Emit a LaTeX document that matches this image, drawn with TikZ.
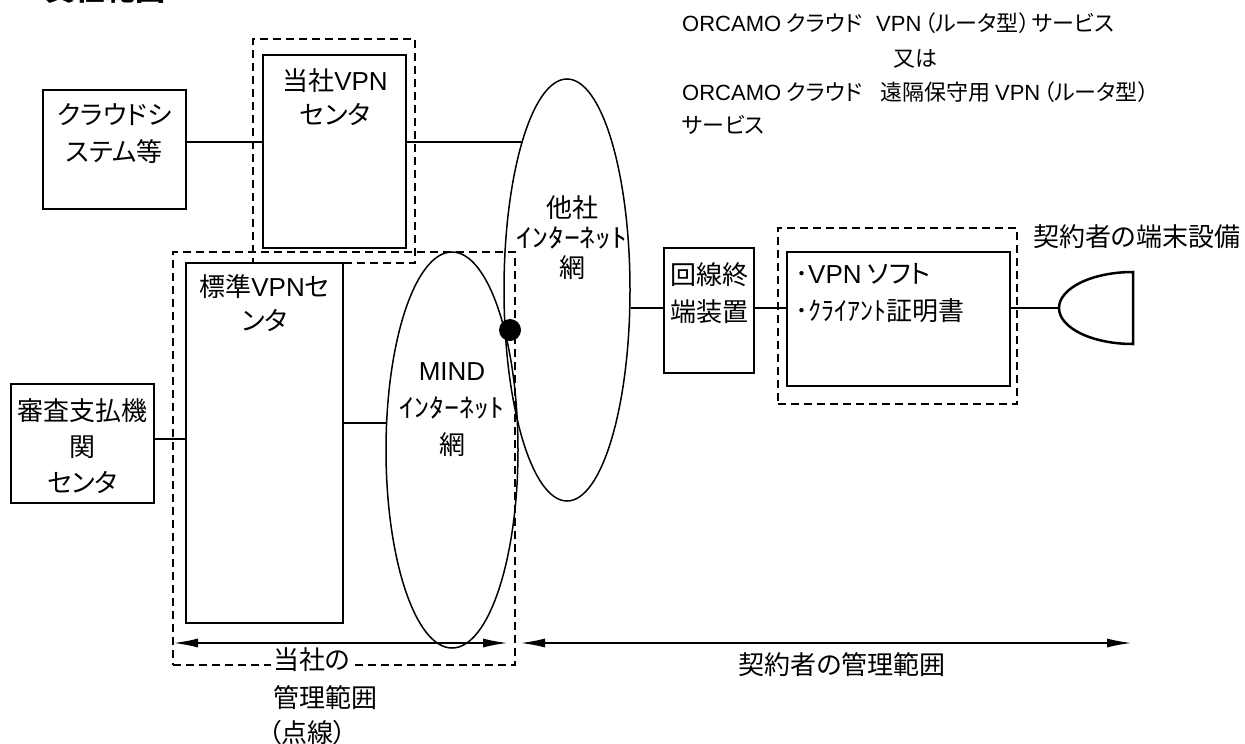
\documentclass[tikz,border=0pt]{standalone}
\usepackage{fontspec}
\setmainfont{Noto Sans CJK JP}[RawFeature=+palt]
\newfontfamily\latfont{Liberation Sans}
\newcommand\lt[1]{{\latfont #1}}
\newcommand\hw[1]{\scalebox{1.15}[1]{#1}}
\usetikzlibrary{shapes.geometric,arrows.meta}
\begin{document}
\begin{tikzpicture}[x=1pt,y=-1pt,
  box/.style={draw,line width=2.5pt,inner sep=0pt},
  dbox/.style={draw,line width=1.5pt,dash pattern=on 8pt off 5pt,inner sep=0pt},
  net/.style={draw,ellipse,line width=1.5pt,inner sep=0pt},
  wire/.style={line width=1.5pt},
  lbl/.style={inner sep=0pt,align=center,font=\fontsize{26}{37}\selectfont},
  trt/.style={inner sep=0pt,font=\fontsize{22}{28}\selectfont},
  rng/.style={line width=2pt,{Latex[length=25pt,width=9pt]}-{Latex[length=25pt,width=9pt]}},
]
\useasboundingbox[fill=white] (0,0) rectangle (1245,744);

% title (cut off at top, as in the reference)
\node[anchor=base west,inner sep=0pt,font=\bfseries\fontsize{30}{30}\selectfont] (title) at (45,1) {責任範囲};

% boxes
\node[dbox,minimum width=162pt,minimum height=224pt] (tvpnd) at (334,151) {};
\node[dbox,minimum width=342pt,minimum height=413pt] (bigd) at (344,458.5) {};
\node[dbox,minimum width=239pt,minimum height=176pt] (softd) at (897.5,316) {};
\node[box,minimum width=143pt,minimum height=119pt] (cloud) at (114.5,149.5) {};
\node[box,minimum width=143pt,minimum height=193pt] (tvpn) at (334.5,151.5) {};
\node[box,minimum width=157pt,minimum height=360pt] (std) at (264.5,443) {};
\node[box,minimum width=143pt,minimum height=119pt] (shinsa) at (82.5,443.5) {};
\node[box,minimum width=90pt,minimum height=125pt] (kaisen) at (709,310.5) {};
\node[box,minimum width=223pt,minimum height=134pt] (soft) at (898.5,319) {};

% networks
\node[net,minimum width=132pt,minimum height=396pt] (mind) at (452,450) {};
\node[net,minimum width=126pt,minimum height=422pt] (tasha) at (567,290) {};
\node[circle,fill=black,minimum size=22pt,inner sep=0pt] (dot) at (510,330) {};

% terminal
\coordinate (term) at (1059,308);
\draw[line width=2.5pt] (term) ++(74,-36) arc[start angle=90,end angle=270,x radius=74pt,y radius=36pt] -- cycle;

% labels
\node[lbl] (tCloud) at (114.5,133.5) {クラウドシ\\ステム等};
\node[lbl,font=\fontsize{26}{34}\selectfont] (tTvpn) at (335,97) {当社\lt{VPN}\\センタ};
\node[lbl,font=\fontsize{26}{34}\selectfont] (tStd) at (264.5,303.5) {標準\lt{VPN}セ\\ンタ};
\node[lbl,font=\fontsize{26}{36}\selectfont] (tShinsa) at (82.5,446) {審査支払機\\関\\センタ};
\node[lbl] (tMind) at (452,409.5) {\lt{MIND}\\\hw{ｲﾝﾀｰﾈｯﾄ}\\網};
\node[lbl,font=\fontsize{26}{30}\selectfont] (tTasha) at (572,238) {他社\\\scalebox{1.22}[1]{ｲﾝﾀｰﾈｯﾄ}\\網};
\node[lbl] (tKaisen) at (709,293.5) {回線終\\端装置};
\node[lbl,align=left,anchor=west] (tSoft) at (795,293.5) {･\lt{VPN} ソフト\\･ｸﾗｲｱﾝﾄ証明書};
\node[lbl,anchor=west] (tTerm) at (1033,237) {契約者の端末設備};

\node[trt,anchor=west] (o1) at (682,23) {\lt{ORCAMO} クラウド\hspace{14pt}\lt{VPN}\hspace{3pt}（ルータ型）\hspace{2pt}サービス};
\node[trt] (o2) at (915,59) {又は};
\node[trt,anchor=west] (o3) at (682,92) {\lt{ORCAMO} クラウド\hspace{18pt}遠隔保守用 \lt{VPN}\hspace{3pt}（ルータ型）};
\node[trt,anchor=west] (o4) at (682,125) {サービス};

% connectors
\coordinate (y1) at (0,142);
\coordinate (y2) at (0,439);
\coordinate (y3) at (0,423);
\coordinate (y4) at (0,308);
\draw[wire] (cloud.east |- y1) -- (tvpn.west |- y1);
\draw[wire] (tvpn.east |- y1) -- (tasha.106.9 |- y1);
\draw[wire] (shinsa.east |- y2) -- (std.west |- y2);
\draw[wire] (std.east |- y3) -- (mind.157.6 |- y3);
\draw[wire] (tasha.-16 |- y4) -- (kaisen.west |- y4);
\draw[wire] (kaisen.east |- y4) -- (soft.west |- y4);
\draw[wire] (soft.east |- y4) -- (term);

% ranges
\coordinate (a1l) at (173,643);
\coordinate (a1r) at (508,643);
\coordinate (a2l) at (520,643);
\coordinate (a2r) at (1132,643);
\draw[rng] (a1l) -- (a1r);
\draw[rng] (a2l) -- (a2r);
\node[lbl,anchor=west,fill=white,inner xsep=2pt] (tOurs1) at (271,660) {当社の};
\node[lbl,anchor=west] (tOurs2) at (273,698) {管理範囲};
\node[lbl,anchor=west] (tOurs3) at (268,733) {（点線）};
\node[lbl] (tCust) at (842,665) {契約者の管理範囲};
\end{tikzpicture}
\end{document}
